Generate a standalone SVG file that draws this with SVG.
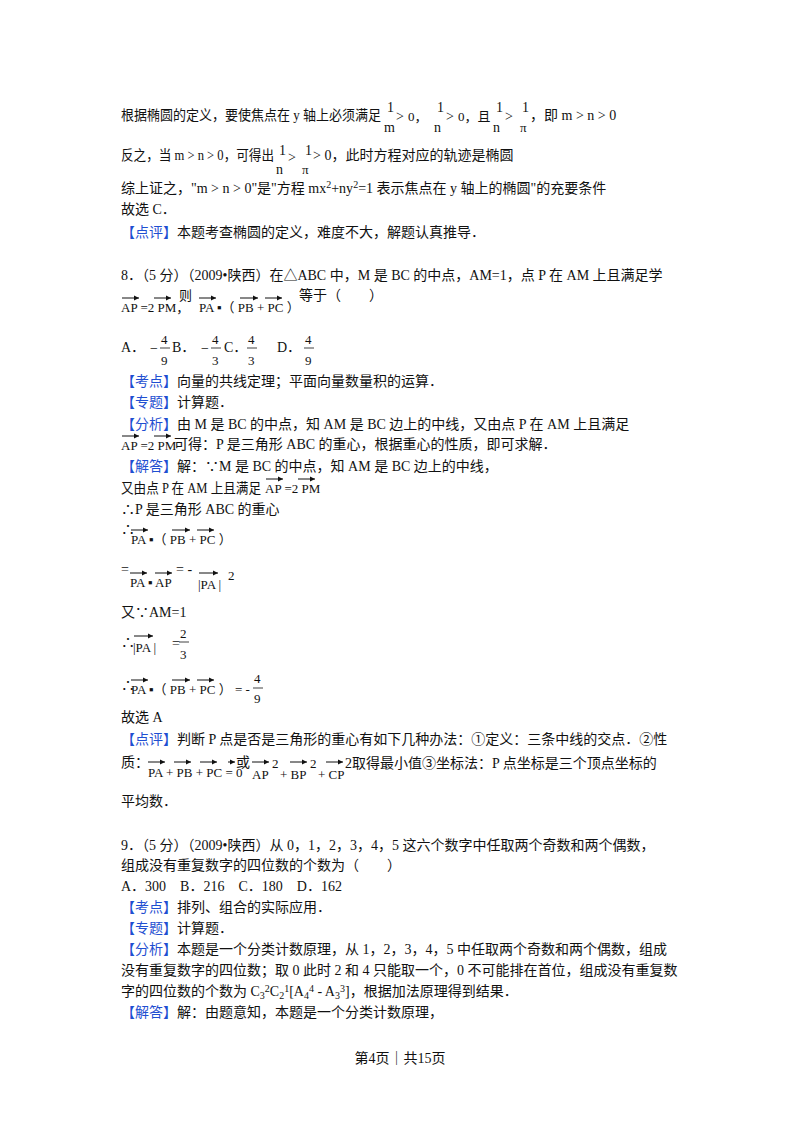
<svg xmlns="http://www.w3.org/2000/svg" width="800" height="1132" viewBox="0 0 800 1132">
<style>
text{font-family:"Liberation Serif","Noto Sans CJK SC",serif;font-size:14px;fill:#111}
.b{fill:#1f4fd1}
.s{font-size:13px}
.f{font-size:10px}
.v{stroke:#111;stroke-width:1;marker-end:url(#ah)}
.fl{stroke:#111;stroke-width:0.8}
</style>
<defs><marker id="ah" markerWidth="6" markerHeight="6" refX="5" refY="3" orient="auto" markerUnits="userSpaceOnUse"><path d="M0,0.5 L5,3 L0,5.5 z" fill="#111"/></marker></defs>
<rect width="800" height="1132" fill="#fff"/>
<g id="p7">
<text x="121" y="120" textLength="260" lengthAdjust="spacingAndGlyphs">根据椭圆的定义，要使焦点在 y 轴上必须满足</text>
<text x="387" y="112" font-size="17">1</text><text x="384" y="132">m</text><text x="396" y="121" font-size="17">&gt;</text><text x="408" y="121" class="s">0，</text>
<text x="437" y="112" font-size="17">1</text><text x="434" y="132">n</text><text x="446" y="121" font-size="17">&gt;</text><text x="458" y="121" class="s">0，且</text>
<text x="496" y="112" font-size="17">1</text><text x="493" y="132">n</text><text x="505" y="121" font-size="17">&gt;</text><text x="522" y="112" font-size="13">1</text><text x="520" y="132" class="s">π</text><text x="530" y="120">，即 m &gt; n &gt; 0</text>
<text x="121" y="160" textLength="153" lengthAdjust="spacingAndGlyphs">反之，当 m &gt; n &gt; 0，可得出</text><text x="279" y="155" font-size="17">1</text><text x="276" y="174">n</text><text x="288" y="162" font-size="17">&gt;</text><text x="305" y="155" font-size="13">1</text><text x="302" y="174" class="s">π</text><text x="313" y="160">&gt; 0，此时方程对应的轨迹是椭圆</text>
<text x="121" y="193">综上证之，"m &gt; n &gt; 0"是"方程 mx<tspan class="f" dy="-5">2</tspan><tspan dy="5">+ny</tspan><tspan class="f" dy="-5">2</tspan><tspan dy="5">=1 表示焦点在 y 轴上的椭圆"的充要条件</tspan></text>
<text x="121" y="214">故选 C．</text>
<text x="121" y="237"><tspan class="b">【点评】</tspan>本题考查椭圆的定义，难度不大，解题认真推导．</text>
</g>
<g id="q8">
<text x="121" y="280">8．（5 分）（2009•陕西）在△ABC 中，M 是 BC 的中点，AM=1，点 P 在 AM 上且满足学</text>
<text x="121" y="312" class="s">AP =2 PM，</text><line class="v" x1="122" y1="298" x2="139" y2="298"/><line class="v" x1="154" y1="298" x2="171" y2="298"/>
<text x="179" y="300" class="s">则</text><text x="199" y="312" class="s">PA ▪（ PB + PC ）</text><line class="v" x1="199" y1="298" x2="216" y2="298"/><line class="v" x1="240" y1="298" x2="258" y2="298"/><line class="v" x1="265" y1="298" x2="282" y2="298"/>
<text x="299" y="300">等于（　　）</text>
<text x="121" y="352">A．</text><text x="150" y="353">−</text><text x="161" y="344" class="s">4</text><line class="fl" x1="160" y1="348" x2="170" y2="348"/><text x="161" y="365" class="s">9</text><text x="172" y="352">B．</text>
<text x="201" y="353">−</text><text x="212" y="344" class="s">4</text><line class="fl" x1="211" y1="348" x2="221" y2="348"/><text x="212" y="365" class="s">3</text><text x="224" y="352">C．</text>
<text x="248" y="344" class="s">4</text><line class="fl" x1="247" y1="348" x2="257" y2="348"/><text x="248" y="365" class="s">3</text><text x="277" y="352">D．</text>
<text x="305" y="344" class="s">4</text><line class="fl" x1="304" y1="348" x2="314" y2="348"/><text x="305" y="365" class="s">9</text>
<text x="121" y="386"><tspan class="b">【考点】</tspan>向量的共线定理；平面向量数量积的运算．</text>
<text x="121" y="407"><tspan class="b">【专题】</tspan>计算题．</text>
<text x="121" y="429"><tspan class="b">【分析】</tspan>由 M 是 BC 的中点，知 AM 是 BC 边上的中线，又由点 P 在 AM 上且满足</text>
<text x="121" y="450" class="s">AP =2 PM</text><line class="v" x1="122" y1="436" x2="139" y2="436"/><line class="v" x1="154" y1="436" x2="171" y2="436"/><text x="174" y="449">可得：P 是三角形 ABC 的重心，根据重心的性质，即可求解．</text>
<text x="121" y="471"><tspan class="b">【解答】</tspan>解：∵M 是 BC 的中点，知 AM 是 BC 边上的中线，</text>
<text x="121" y="493" textLength="140" lengthAdjust="spacingAndGlyphs">又由点 P 在 AM 上且满足</text><text x="265" y="493" class="s">AP =2 PM</text><line class="v" x1="266" y1="479" x2="283" y2="479"/><line class="v" x1="298" y1="479" x2="315" y2="479"/>
<text x="121" y="514">∴P 是三角形 ABC 的重心</text>
<text x="121" y="534">∴</text><text x="131" y="544" class="s">PA ▪（ PB + PC ）</text><line class="v" x1="131" y1="530" x2="148" y2="530"/><line class="v" x1="172" y1="530" x2="190" y2="530"/><line class="v" x1="197" y1="530" x2="214" y2="530"/>
<text x="121" y="574">=</text><text x="130" y="587" class="s">PA ▪ AP</text><line class="v" x1="130" y1="573" x2="147" y2="573"/><line class="v" x1="155" y1="573" x2="172" y2="573"/><text x="176" y="574">= -</text><text x="198" y="589" class="s">|PA |</text><line class="v" x1="199" y1="573" x2="218" y2="573"/><text x="228" y="580" class="s">2</text>
<text x="121" y="617">又∵AM=1</text>
<text x="121" y="647">∴</text><text x="133" y="652" class="s">|PA |</text><line class="v" x1="134" y1="636" x2="153" y2="636"/><text x="172" y="648">=</text><text x="180" y="638" class="s">2</text><line class="fl" x1="179" y1="642" x2="189" y2="642"/><text x="180" y="659" class="s">3</text>
<text x="121" y="690">∴</text><text x="131" y="694" class="s">PA ▪（ PB + PC ） = -</text><line class="v" x1="131" y1="680" x2="148" y2="680"/><line class="v" x1="172" y1="680" x2="190" y2="680"/><line class="v" x1="197" y1="680" x2="214" y2="680"/><text x="254" y="683" class="s">4</text><line class="fl" x1="253" y1="688" x2="263" y2="688"/><text x="254" y="703" class="s">9</text>
<text x="121" y="722">故选 A</text>
<text x="121" y="744"><tspan class="b">【点评】</tspan>判断 P 点是否是三角形的重心有如下几种办法：①定义：三条中线的交点．②性</text>
<text x="121" y="767">质：</text><text x="148" y="777" class="s">PA + PB + PC = 0</text><line class="v" x1="148" y1="762" x2="165" y2="762"/><line class="v" x1="174" y1="762" x2="191" y2="762"/><line class="v" x1="200" y1="762" x2="217" y2="762"/><line class="v" x1="228" y1="762" x2="235" y2="762"/>
<text x="236" y="767">或</text><text x="252" y="779" class="s">AP</text><line class="v" x1="252" y1="762" x2="269" y2="762"/><text x="272" y="768" class="s">2</text><text x="280" y="779" class="s">+ BP</text><line class="v" x1="290" y1="762" x2="307" y2="762"/><text x="310" y="768" class="s">2</text><text x="318" y="779" class="s">+ CP</text><line class="v" x1="326" y1="762" x2="343" y2="762"/><text x="345" y="768">2取得最小值③坐标法：P 点坐标是三个顶点坐标的</text>
<text x="121" y="806">平均数．</text>
</g>
<g id="q9">
<text x="121" y="850">9．（5 分）（2009•陕西）从 0，1，2，3，4，5 这六个数字中任取两个奇数和两个偶数，</text>
<text x="121" y="870">组成没有重复数字的四位数的个数为（　　）</text>
<text x="121" y="891">A．300　B．216　C．180　D．162</text>
<text x="121" y="912"><tspan class="b">【考点】</tspan>排列、组合的实际应用．</text>
<text x="121" y="933"><tspan class="b">【专题】</tspan>计算题．</text>
<text x="121" y="954"><tspan class="b">【分析】</tspan>本题是一个分类计数原理，从 1，2，3，4，5 中任取两个奇数和两个偶数，组成</text>
<text x="121" y="975">没有重复数字的四位数；取 0 此时 2 和 4 只能取一个，0 不可能排在首位，组成没有重复数</text>
<text x="121" y="996">字的四位数的个数为 C<tspan class="f" dy="3">3</tspan><tspan class="f" dy="-7">2</tspan><tspan dy="4">C</tspan><tspan class="f" dy="3">2</tspan><tspan class="f" dy="-7">1</tspan><tspan dy="4">[A</tspan><tspan class="f" dy="3">4</tspan><tspan class="f" dy="-7">4</tspan><tspan dy="4"> - A</tspan><tspan class="f" dy="3">3</tspan><tspan class="f" dy="-7">3</tspan><tspan dy="4">]，根据加法原理得到结果．</tspan></text>
<text x="121" y="1017"><tspan class="b">【解答】</tspan>解：由题意知，本题是一个分类计数原理，</text>
</g>
<text x="400" y="1063" text-anchor="middle" font-size="13">第4页｜共15页</text>
</svg>
